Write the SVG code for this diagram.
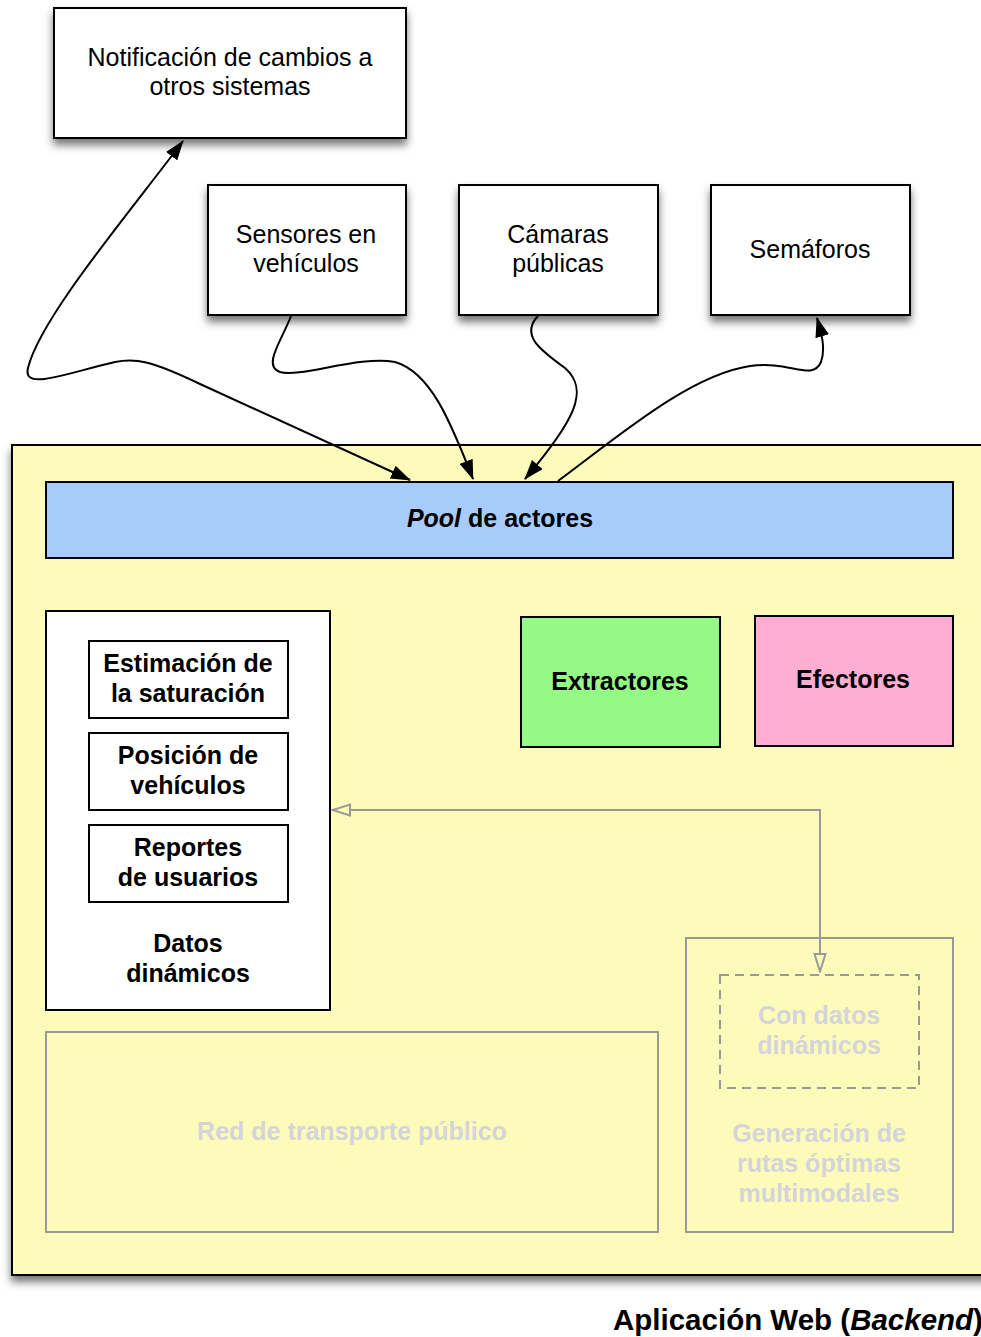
<svg xmlns="http://www.w3.org/2000/svg" width="981" height="1337" viewBox="0 0 981 1337">
  <defs>
    <filter id="shadow" x="-10%" y="-10%" width="130%" height="140%">
      <feDropShadow dx="0" dy="6" stdDeviation="4" flood-color="#000" flood-opacity="0.55"/>
    </filter>
    <marker id="arrow" viewBox="0 0 20 14" refX="19" refY="7" markerWidth="20" markerHeight="14" markerUnits="userSpaceOnUse" orient="auto-start-reverse">
      <path d="M0,0 L20,7 L0,14 Z" fill="#000"/>
    </marker>
    <marker id="open" viewBox="0 0 20 14" refX="19" refY="7" markerWidth="20" markerHeight="14" markerUnits="userSpaceOnUse" orient="auto-start-reverse">
      <path d="M1,1.5 L18.5,7 L1,12.5 Z" fill="#fdfbba" stroke="#999" stroke-width="2"/>
    </marker>
    <style>
      .box { fill: #fff; stroke: #000; stroke-width: 2; }
      .txt { font-family: "Liberation Sans", Arial, sans-serif; font-size: 25px; fill: #000; text-anchor: middle; }
      .bold { font-family: "Liberation Sans", Arial, sans-serif; font-size: 25px; font-weight: bold; fill: #000; text-anchor: middle; }
      .faint { font-family: "Liberation Sans", Arial, sans-serif; font-size: 25px; font-weight: bold; fill: #d4d4da; text-anchor: middle; }
      .ghost { fill: none; stroke: #999; stroke-width: 2; }
      .link { fill: none; stroke: #000; stroke-width: 2; }
    </style>
  </defs>

  <rect width="981" height="1337" fill="#fff"/>

  <!-- external systems -->
  <g id="notificacion">
    <rect class="box" x="54" y="8" width="352" height="130" filter="url(#shadow)"/>
    <text class="txt" x="230" y="66">Notificación de cambios a</text>
    <text class="txt" x="230" y="95">otros sistemas</text>
  </g>
  <g id="sensores">
    <rect class="box" x="208" y="185" width="198" height="130" filter="url(#shadow)"/>
    <text class="txt" x="306" y="243">Sensores en</text>
    <text class="txt" x="306" y="272">vehículos</text>
  </g>
  <g id="camaras">
    <rect class="box" x="459" y="185" width="199" height="130" filter="url(#shadow)"/>
    <text class="txt" x="558" y="243">Cámaras</text>
    <text class="txt" x="558" y="272">públicas</text>
  </g>
  <g id="semaforos">
    <rect class="box" x="711" y="185" width="199" height="130" filter="url(#shadow)"/>
    <text class="txt" x="810" y="258">Semáforos</text>
  </g>

  <!-- backend application container -->
  <g id="backend">
    <rect x="12" y="445" width="990" height="830" fill="#fdfbba" stroke="#000" stroke-width="2" filter="url(#shadow)"/>
    <text font-family="Liberation Sans, Arial, sans-serif" font-size="29.5" font-weight="bold" x="613" y="1330">Aplicación Web (<tspan font-style="italic">Backend</tspan>)</text>
  </g>

  <g id="pool">
    <rect x="46" y="482" width="907" height="76" fill="#a7cbfb" stroke="#000" stroke-width="2"/>
    <text class="bold" x="500" y="527"><tspan font-style="italic">Pool</tspan> de actores</text>
  </g>

  <g id="datos-dinamicos">
    <rect class="box" x="46" y="611" width="284" height="399"/>
    <text class="bold" x="188" y="952">Datos</text>
    <text class="bold" x="188" y="982">dinámicos</text>
  </g>
  <g id="estimacion">
    <rect class="box" x="89" y="641" width="199" height="77"/>
    <text class="bold" x="188" y="672">Estimación de</text>
    <text class="bold" x="188" y="702">la saturación</text>
  </g>
  <g id="posicion">
    <rect class="box" x="89" y="733" width="199" height="77"/>
    <text class="bold" x="188" y="764">Posición de</text>
    <text class="bold" x="188" y="794">vehículos</text>
  </g>
  <g id="reportes">
    <rect class="box" x="89" y="825" width="199" height="77"/>
    <text class="bold" x="188" y="856">Reportes</text>
    <text class="bold" x="188" y="886">de usuarios</text>
  </g>

  <g id="extractores">
    <rect x="521" y="617" width="199" height="130" fill="#95f986" stroke="#000" stroke-width="2"/>
    <text class="bold" x="620" y="690">Extractores</text>
  </g>
  <g id="efectores">
    <rect x="755" y="616" width="198" height="130" fill="#feaed3" stroke="#000" stroke-width="2"/>
    <text class="bold" x="853" y="688">Efectores</text>
  </g>

  <g id="red-transporte">
    <rect class="ghost" x="46" y="1032" width="612" height="200"/>
    <text class="faint" x="352" y="1140">Red de transporte público</text>
  </g>
  <g id="generacion-rutas">
    <rect class="ghost" x="686" y="938" width="267" height="294"/>
    <text class="faint" x="819" y="1142">Generación de</text>
    <text class="faint" x="819" y="1172">rutas óptimas</text>
    <text class="faint" x="819" y="1202">multimodales</text>
  </g>
  <g id="con-datos">
    <rect x="720" y="975" width="199" height="113" fill="none" stroke="#999" stroke-width="2" stroke-dasharray="9,6"/>
    <text class="faint" x="819" y="1024">Con datos</text>
    <text class="faint" x="819" y="1054">dinámicos</text>
  </g>

  <!-- connectors -->
  <g id="connectors">
    <path class="link" marker-start="url(#arrow)" marker-end="url(#arrow)"
          d="M183,141 C130,212 40,318 28,368 C22,392 70,372 115,362 C135,358 150,360 200,384 L410,480"/>
    <path class="link" marker-end="url(#arrow)"
          d="M291,316 C282,340 262,366 280,372 C300,378 360,355 395,362 C430,372 450,420 473,479"/>
    <path class="link" marker-end="url(#arrow)"
          d="M538,316 C520,335 540,350 565,368 C590,390 575,420 525,479"/>
    <path class="link" marker-end="url(#arrow)"
          d="M558,481 C620,435 690,375 750,366 C790,360 812,382 821,362 C826,348 821,332 817,318"/>
    <path class="ghost" marker-start="url(#open)" marker-end="url(#open)"
          d="M332,810 L820,810 L820,972"/>
  </g>
</svg>
